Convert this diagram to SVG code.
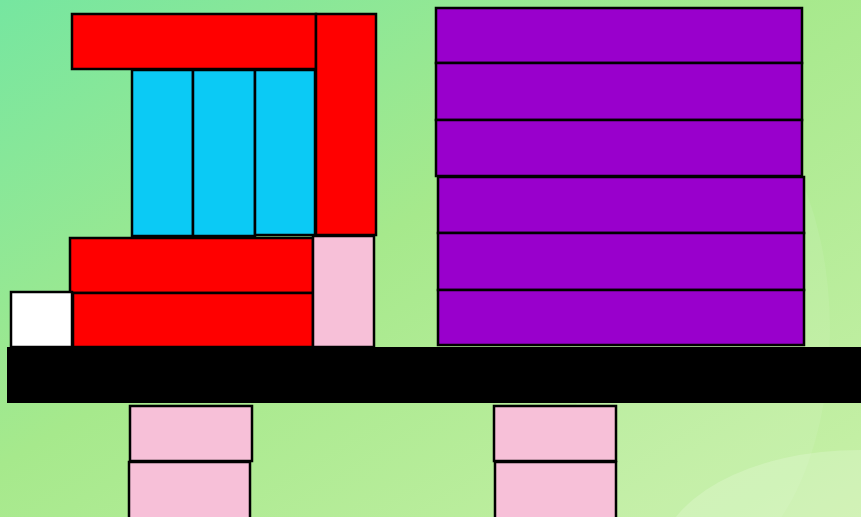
<svg xmlns="http://www.w3.org/2000/svg" width="861" height="517" viewBox="0 0 861 517">
<defs>
<linearGradient id="bg" x1="0" y1="0" x2="1" y2="1">
<stop offset="0" stop-color="#76e6a0"/>
<stop offset="0.45" stop-color="#a6e98c"/>
<stop offset="1" stop-color="#c8f0a8"/>
</linearGradient>
<style>
.b{stroke:#000;stroke-width:2.5}
.red{fill:#ff0000}
.blue{fill:#0bcaf5}
.pur{fill:#9900cc}
.pink{fill:#f7c0d8}
.white{fill:#ffffff}
</style>
</defs>
<rect x="0" y="0" width="861" height="517" fill="url(#bg)"/>
<ellipse cx="860" cy="560" rx="200" ry="110" fill="#ffffff" opacity="0.18"/>
<ellipse cx="700" cy="330" rx="130" ry="240" fill="#ffffff" opacity="0.08"/>
<g id="scene">
<g id="red-top"><rect class="b red" x="72" y="14" width="244" height="55"/></g>
<g id="red-column"><rect class="b red" x="316" y="14" width="60" height="221"/></g>
<g id="blue-1"><rect class="b blue" x="132" y="70" width="61" height="166"/></g>
<g id="blue-2"><rect class="b blue" x="193" y="70" width="62" height="166"/></g>
<g id="blue-3"><rect class="b blue" x="255" y="70" width="60" height="165"/></g>
<g id="red-mid"><rect class="b red" x="70" y="238" width="243" height="55"/></g>
<g id="red-low"><rect class="b red" x="73" y="293" width="240" height="54"/></g>
<g id="white"><rect class="b white" x="11" y="292" width="61" height="55"/></g>
<g id="pink-right"><rect class="b pink" x="313" y="236" width="61" height="111"/></g>
<g id="purple-1"><rect class="b pur" x="436" y="8" width="366" height="55"/></g>
<g id="purple-2"><rect class="b pur" x="436" y="63" width="366" height="57"/></g>
<g id="purple-3"><rect class="b pur" x="436" y="120" width="366" height="56"/></g>
<g id="purple-4"><rect class="b pur" x="438" y="177" width="366" height="56"/></g>
<g id="purple-5"><rect class="b pur" x="438" y="233" width="366" height="57"/></g>
<g id="purple-6"><rect class="b pur" x="438" y="290" width="366" height="55"/></g>
<g id="base"><rect x="7" y="347" width="854" height="56" fill="#000"/></g>
<g id="leg-left-1"><rect class="b pink" x="130" y="406" width="122" height="55"/></g>
<g id="leg-left-2"><rect class="b pink" x="129" y="462" width="121" height="60"/></g>
<g id="leg-right-1"><rect class="b pink" x="494" y="406" width="122" height="55"/></g>
<g id="leg-right-2"><rect class="b pink" x="495" y="462" width="121" height="60"/></g>
</g>
</svg>
